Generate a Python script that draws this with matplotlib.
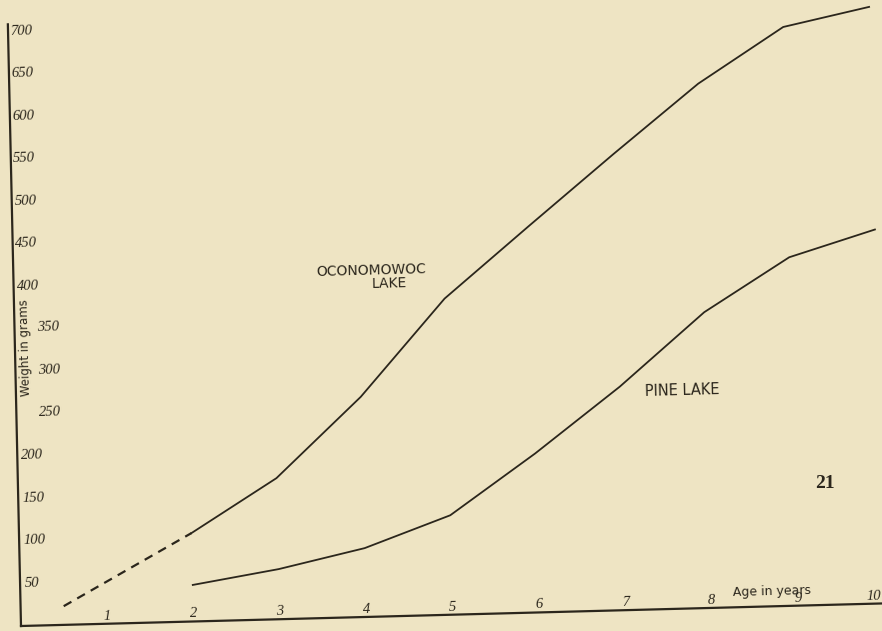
import matplotlib
matplotlib.use("Agg")
import matplotlib.pyplot as plt
import matplotlib.transforms as mtransforms

# growth data (weight in grams by age in years)
ages = [2, 3, 4, 5, 6, 7, 8, 9, 10]
oconomowoc = [104, 166, 259, 372, 455, 537, 617, 681, 702]
pine = [43, 59, 81, 117, 187, 263, 348, 410, 440]

# first year of Oconomowoc was only guessed -> dashed
oco_early_ages = [0.5, 2]
oco_early = [22, 104]

x_ticks = [1, 2, 3, 4, 5, 6, 7, 8, 9, 10]
y_ticks = [50, 100, 150, 200, 250, 300, 350, 400, 450, 500, 550, 600, 650, 700]

paper = "#eee4c3"
ink = "#2b261c"

fig = plt.figure(figsize=(8.82, 6.31), dpi=100, facecolor=paper)
ax = fig.add_axes([0, 0, 1, 1])
ax.set_facecolor(paper)
# 86.4 px per year, 0.85 px per gram, origin at pixel (21, 5)
ax.set_xlim(-21 / 86.4, (882 - 21) / 86.4)
ax.set_ylim(-5 / 0.85, 626 / 0.85)
ax.axis("off")

# the scan is a little crooked, so tilt everything around the origin
ox, oy = ax.transData.transform((0, 0))
tilt_deg = 1.5
tr = ax.transData + mtransforms.Affine2D().rotate_deg_around(ox, oy, tilt_deg)
tr_y = ax.transData + mtransforms.Affine2D().rotate_deg_around(ox, oy, 1.25)

# axes
ax.plot([0, 10.2], [0, 0], color=ink, lw=1.6, transform=tr, clip_on=False)
ax.plot([0, 0], [0, 708], color=ink, lw=1.6, transform=tr_y, clip_on=False)

# curves
ax.plot(ages, oconomowoc, color=ink, lw=1.3, transform=tr, clip_on=False)
ax.plot(oco_early_ages, oco_early, color=ink, lw=1.6, dashes=(4, 3),
        transform=tr, clip_on=False)
ax.plot(ages, pine, color=ink, lw=1.3, transform=tr, clip_on=False)

tick_font = dict(family="Liberation Serif", style="italic", size=10.5,
                 color=ink, transform=tr, rotation=tilt_deg,
                 rotation_mode="anchor")

for v in y_ticks:
    # labels next to the axis title sit further right
    xoff = 0.27 if 250 <= v <= 350 else 0.05
    ax.text(xoff, v, str(v), ha="left", va="center", **tick_font)

for a in x_ticks:
    # last label is squeezed in against the page edge
    xa = a - 0.12 if a == 10 else a
    ax.text(xa, 9, str(a), ha="center", va="center", **tick_font)

hand = dict(family="DejaVu Sans", color=ink, transform=tr,
            rotation=tilt_deg, rotation_mode="anchor", ha="center", va="center")

ax.text(8.7, 17, "Age in years", size=9, **hand)
ax.text(0.13, 327, "Weight in grams", size=8.5, family="DejaVu Sans",
        color=ink, transform=tr, rotation=90 + tilt_deg,
        rotation_mode="anchor", ha="center", va="center")

ax.text(4.16, 407, "OCONOMOWOC", size=10, **hand)
ax.text(4.36, 392, "LAKE", size=10, **hand)
ax.text(7.72, 257, "PINE LAKE", size=10.5, **hand)

# page number of the plate
fig.text(825 / 882, 1 - 483 / 631, "21", family="Liberation Serif",
         weight="bold", size=14, color=ink, ha="center", va="center")

fig.savefig("out.png", dpi=100, facecolor=paper)
